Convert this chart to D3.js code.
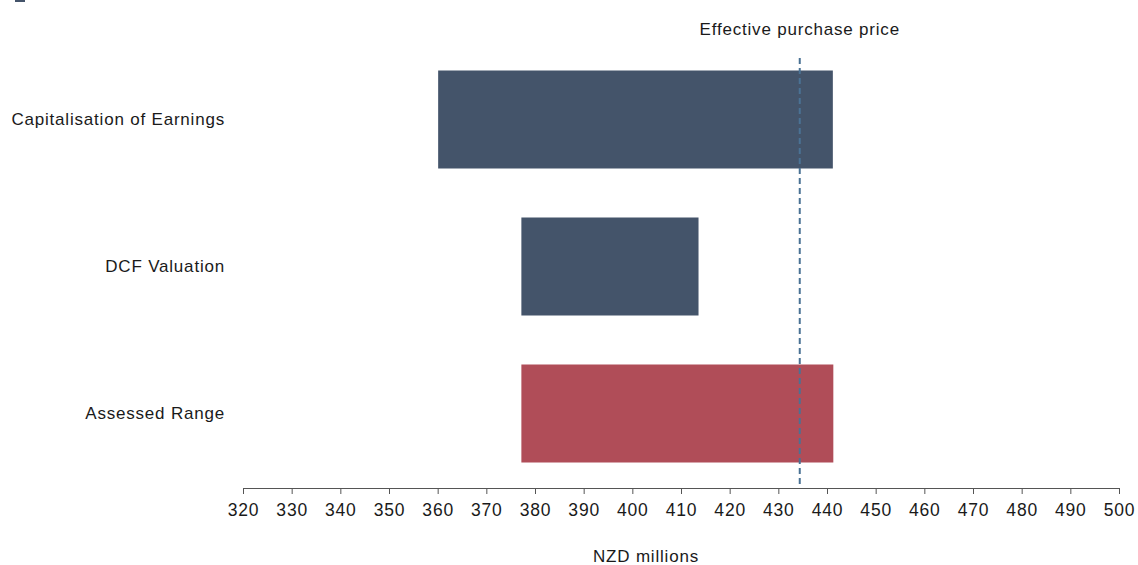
<!DOCTYPE html>
<html lang="en">
<head>
    <meta charset="UTF-8">
    <title>Valuation range</title>
    <script type="text/javascript" src="https://cdn.jsdelivr.net/npm/d3@7"></script>
    <style type="text/css">
        body { margin: 0; background: #fff; }
        text { font-family: "Liberation Sans", Arial, sans-serif; fill: #1a1a1a; letter-spacing: 0.8px; }
    </style>
</head>
<body>
    <script type="text/javascript">
        //Width and height
        var w = 1138;
        var h = 565;

        var categories = ["Capitalisation of Earnings", "DCF Valuation", "Assessed Range"];
        var lowValues = [360.1, 377.2, 377.2];
        var highValues = [441.2, 413.6, 441.3];
        var barColors = ["#44546a", "#44546a", "#b04d58"];
        var purchasePrice = 434.4;
        var xTicks = d3.range(320, 501, 10);

        var xScale = d3.scaleLinear()
            .domain([320, 500])
            .range([243, 1119]);

        var yScale = d3.scaleBand()
            .domain(categories)
            .range([46, 487])
            .paddingInner(1 / 3)
            .paddingOuter(1 / 6);

        //Create SVG element
        var svg = d3.select("body")
            .append("svg")
            .attr("width", w)
            .attr("height", h);

        //Bars
        svg.selectAll("rect.bar")
            .data(categories)
            .enter()
            .append("rect")
            .attr("class", "bar")
            .attr("x", function(d, i) { return xScale(lowValues[i]); })
            .attr("y", function(d) { return yScale(d); })
            .attr("width", function(d, i) { return xScale(highValues[i]) - xScale(lowValues[i]); })
            .attr("height", yScale.bandwidth())
            .attr("fill", function(d, i) { return barColors[i]; });

        //Category labels
        svg.selectAll("text.cat")
            .data(categories)
            .enter()
            .append("text")
            .attr("class", "cat")
            .attr("x", 225)
            .attr("y", function(d) { return yScale(d) + yScale.bandwidth() / 2; })
            .attr("dy", "0.35em")
            .attr("text-anchor", "end")
            .style("font-size", "17px")
            .text(function(d) { return d; });

        //X axis
        var xAxis = d3.axisBottom(xScale)
            .tickValues(xTicks)
            .tickSize(6)
            .tickSizeOuter(0)
            .tickPadding(10);

        var gx = svg.append("g")
            .attr("transform", "translate(0,488)")
            .call(xAxis);
        gx.select(".domain").attr("stroke", "#555");
        gx.selectAll(".tick line").attr("stroke", "#555");
        gx.selectAll(".tick text")
            .style("font-size", "17.5px")
            .style("font-family", "'Liberation Sans', Arial, sans-serif")
            .attr("fill", "#1a1a1a");

        //Axis title
        svg.append("text")
            .attr("x", 646)
            .attr("y", 562)
            .attr("text-anchor", "middle")
            .style("font-size", "17px")
            .text("NZD millions");

        //Purchase price line
        svg.append("line")
            .attr("x1", xScale(purchasePrice))
            .attr("x2", xScale(purchasePrice))
            .attr("y1", 58)
            .attr("y2", 485)
            .attr("stroke", "#4a7294")
            .attr("stroke-width", 2)
            .attr("stroke-dasharray", "6,4");

        svg.append("text")
            .attr("x", xScale(purchasePrice))
            .attr("y", 35)
            .attr("text-anchor", "middle")
            .style("font-size", "17px")
            .text("Effective purchase price");

        //Small mark at top left
        svg.append("rect")
            .attr("x", 15)
            .attr("y", 0)
            .attr("width", 10)
            .attr("height", 2)
            .attr("fill", "#44546a");
    </script>
</body>
</html>
